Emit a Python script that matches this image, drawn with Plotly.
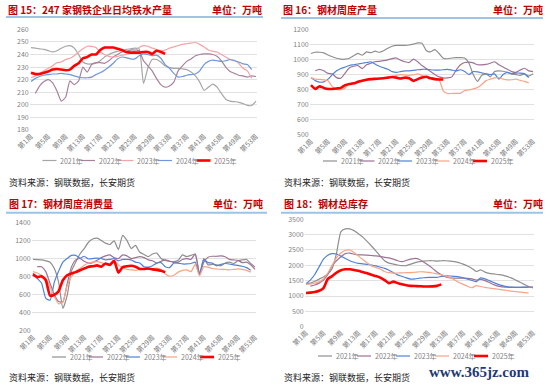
import plotly.graph_objects as go

W, H = 550, 387
FONT = "Noto Sans CJK SC"

tick_weeks = [1, 5, 9, 13, 17, 21, 25, 29, 33, 37, 41, 45, 49, 53]
tick_text = ["第%d周" % w for w in tick_weeks]
years = ["2021年", "2022年", "2023年", "2024年", "2025年"]

# 图15 247家钢铁企业日均铁水产量
p1_2021 = [245.5, 245, 244.5, 244, 243, 242, 243, 245, 246.5, 247, 245, 240, 234, 232.5, 232.5, 233, 235, 238, 240, 241.5,
           242.5, 243, 244, 244.5, 245, 244.5, 217, 229, 236, 236, 234, 231, 229.5, 229, 229, 228.5, 228, 226, 223, 218,
           211.5, 214, 216.5, 214, 209, 204.5, 203, 202.5, 202, 201, 199.5, 199.5, 203]
p1_2022 = [None, 209, 215, 218.5, 220, 217.5, 211, 203, 206, 219, 216, 219, 230, 226, 232, 233.5, 233.5, 233, 235, 238,
           240, 242, 242.5, 243.5, 243.5, 243, 235, 231, 227, 221, 216, 214, 215, 218, 227, 231, 234.5, 236.5, 239, 240,
           240.5, 240.5, 240, 238.5, 235, 230, 226.5, 225, 223.5, 223, 222, 223, 222.5]
p1_2023 = [221.5, 223, 225, 227, 229, 231, 233.5, 234, 236, 237, 239, 242, 244.5, 246.5, 246.5, 245.5, 242, 240, 238.5, 238,
           238.5, 239.5, 240, 241, 242.5, 245.5, 247, 246.5, 245, 244, 243, 243.5, 245, 246, 247, 248, 248.5, 249, 249.5, 248,
           246, 243.5, 242.5, 242, 240, 238, 236, 235.5, 233, 229, 227, 221]
p1_2024 = [218.5, 221, 222.5, 223.5, 224, 224.5, 224.5, 225, 224.5, 224, 223, 222, 221.5, 221.5, 222, 224, 225.5, 227.5, 230, 233,
           236.5, 238, 237.5, 236.5, 236.5, 239, 240.5, 240, 239, 239.5, 237, 232, 229, 225, 222, 222.5, 223.5, 224, 224.5, 227,
           232, 234.5, 235.5, 235, 234.5, 235, 236, 235, 234, 232.5, 232, 228]
p1_2025 = [225.5, 224.5, 224.5, 225.5, 226.5, 228, 228.5, 228, 227.5, 228, 231, 233, 237, 238, 240, 240, 243.5, 245.5, 245.5, 245.5,
           244.5, 243.5, 242, 241.5, 241.5, 241.5, 242, 242, 240.5, 243, 242, 240.5]

# 图16 钢材周度产量
p2_2021 = [1040, 1048, 1048, 1044, 1030, 1018, 1008, 1002, 1002, 1008, 1025, 1040, 1028, 1050, 1045, 1055, 1048, 1058, 1075, 1088,
           1094, 1094, 1094, 1096, 1102, 1110, 1108, 1060, 1050, 1065, 1040, 1008, 1005, 1010, 1012, 1012, 1010, 975, 900, 855,
           895, 905, 885, 920, 925, 922, 915, 905, 900, 895, 905, 890, 905]
p2_2022 = [None, 925, 935, 925, 908, 905, 880, 876, 910, 945, 955, 960, 940, 965, 975, 985, 988, 992, 998, 1006,
           1010, 995, 985, 980, 1003, 985, 960, 940, 920, 900, 885, 878, 878, 885, 930, 965, 980, 983, 978, 965,
           965, 968, 975, 985, 965, 950, 935, 920, 915, 930, 942, 925, 920]
p2_2023 = [880, 860, 850, 852, 870, 900, 925, 940, 950, 960, 965, 970, 975, 980, 985, 970, 955, 945, 935, 920,
           915, 920, 925, 925, 928, 932, 935, 935, 932, 930, 930, 932, 935, 930, 925, 932, 920, 900, 920, 918,
           912, 905, 900, 905, 870, 900, 915, 905, 910, 910, 905, 880]
p2_2024 = [880, 870, 868, 865, 860, 820, 802, 800, 812, 840, 845, 850, 858, 865, 868, 870, 872, 876, 880, 888,
           895, 900, 898, 895, 898, 905, 895, 885, 880, 875, 868, 790, 775, 775, 775, 776, 795, 798, 805, 815,
           835, 860, 870, 878, 880, 870, 865, 866, 870, 862, 855, 845]
p2_2025 = [830, 805, 822, 812, 805, 805, 808, 812, 830, 838, 842, 852, 860, 866, 870, 872, 874, 876, 880, 884,
           880, 874, 880, 876, 858, 870, 880, 886, 875, 870, 868, 868]

# 图17 钢材周度消费量
p3_2021 = [990, 988, 985, 975, 960, 890, 740, 450, 590, 860, 960, 1050, 1110, 1180, 1215, 1225, 1200, 1170, 1155, 1195,
           1100, 1255, 1200, 1110, 1145, 1070, 1045, 1020, 1050, 1060, 1000, 980, 970, 965, 980, 1040, 1020, 1035, 1050, 830,
           1000, 930, 935, 930, 920, 950, 960, 945, 975, 985, 990, 945, 905]
p3_2022 = [None, 910, 910, 855, 725, 600, 525, 520, 720, 905, 985, 1000, 970, 950, 955, 980, 1010, 1030, 1040, 1010,
           1000, 1040, 1030, 1000, 1010, 1020, 1010, 985, 975, 950, 970, 985, 970, 955, 960, 990, 1000, 990, 1050, 830,
           960, 1015, 1025, 1025, 1030, 1020, 990, 985, 980, 955, 960, 930, 880]
p3_2023 = [835, 780, 730, 560, 540, 740, 860, 960, 1000, 1035, 1035, 1005, 1025, 995, 1000, 1005, 1000, 985, 990, 1000,
           975, 990, 990, 985, 960, 950, 910, 905, 920, 950, 955, 910, 900, 950, 950, 940, 940, 945, 960, 815,
           990, 955, 950, 920, 935, 945, 940, 930, 925, 915, 900, 870]
p3_2024 = [855, 840, 815, 780, 690, 580, 500, 520, 700, 800, 860, 890, 925, 950, 960, 965, 955, 940, 930, 975,
           930, 900, 880, 875, 870, 880, 885, 880, 890, 895, 880, 830, 805, 815, 850, 870, 875, 855, 935, 810,
           910, 905, 890, 885, 880, 880, 875, 880, 885, 880, 870, 850]
p3_2025 = [825, 795, 805, 760, 590, 600, 640, 760, 815, 835, 850, 870, 890, 910, 915, 925, 910, 945, 930, 975,
           845, 905, 915, 920, 910, 885, 885, 890, 880, 875, 865, 850]

# 图18 钢材总库存
p4_2021 = [1390, 1420, 1480, 1550, 1620, 1720, 1900, 2400, 3100, 3190, 3190, 3130, 3030, 2920, 2780, 2630, 2470, 2300, 2150, 2070,
           2040, 2010, 1990, 1990, 2040, 2090, 2120, 2140, 2150, 2150, 2140, 2150, 2150, 2140, 2120, 2090, 2040, 1980, 1900, 1800,
           1850, 1780, 1740, 1720, 1700, 1680, 1640, 1590, 1520, 1450, 1380, 1310, 1260]
p4_2022 = [None, 1320, 1360, 1420, 1520, 1700, 2000, 2150, 2280, 2380, 2400, 2360, 2340, 2340, 2330, 2320, 2310, 2290, 2260, 2240,
           2200, 2150, 2120, 2160, 2200, 2225, 2190, 2100, 2010, 1900, 1780, 1690, 1620, 1590, 1580, 1580, 1580, 1575, 1560, 1520,
           1540, 1500, 1440, 1370, 1320, 1300, 1285, 1280, 1280, 1280, 1280, 1285, 1300]
p4_2023 = [1400, 1520, 1700, 1950, 2200, 2330, 2380, 2370, 2300, 2220, 2150, 2100, 2065, 2050, 2030, 2010, 1980, 1940, 1900, 1840,
           1760, 1690, 1640, 1590, 1550, 1560, 1580, 1595, 1605, 1610, 1610, 1640, 1655, 1652, 1640, 1625, 1590, 1550, 1510, 1470,
           1590, 1560, 1500, 1440, 1380, 1340, 1305, 1290, 1285, 1285, 1290, 1300]
p4_2024 = [1390, 1390, 1420, 1470, 1560, 1750, 2000, 2250, 2400, 2490, 2500, 2420, 2300, 2190, 2080, 1980, 1930, 1880, 1800, 1760,
           1745, 1750, 1755, 1760, 1765, 1775, 1790, 1785, 1770, 1750, 1720, 1690, 1650, 1600, 1530, 1440, 1380, 1320, 1270, 1340,
           1310, 1280, 1260, 1240, 1220, 1200, 1180, 1160, 1140, 1125, 1110, 1100]
p4_2025 = [1100, 1110, 1130, 1170, 1260, 1560, 1650, 1760, 1840, 1870, 1870, 1850, 1820, 1780, 1740, 1690, 1650, 1600, 1520, 1420,
           1470, 1420, 1380, 1350, 1330, 1325, 1320, 1310, 1310, 1315, 1330, 1380]

colors_a = ["#A6A6A6", "#A8819C", "#F4A3A8", "#6F97DE", "#FF0000"]
colors_b = ["#8F8F8F", "#9E7295", "#5282D6", "#F8A486", "#FF0000"]


def px(x):
    return x / W


def py(y):
    return 1 - y / H


panels = [
    dict(title="图 15：247 家钢铁企业日均铁水产量", tx=6, ty=9, ux=210, line_y=17, lx0=6, lx1=263,
         xd=(29.7, 257.3), yd=(29.3, 130), yr=(180, 260), dt=10,
         series=[p1_2021, p1_2022, p1_2023, p1_2024, p1_2025], colors=colors_a,
         leg_x=42.5, leg_y=160.5, leg_step=38.5, src_x=7, src_y=183),
    dict(title="图 16：钢材周度产量", tx=281, ty=9, ux=491, line_y=18, lx0=281, lx1=543,
         xd=(309.7, 534.3), yd=(29.3, 135), yr=(500, 1200), dt=100,
         series=[p2_2021, p2_2022, p2_2023, p2_2024, p2_2025], colors=colors_b,
         leg_x=323, leg_y=161, leg_step=37.5, src_x=282, src_y=183),
    dict(title="图 17：钢材周度消费量", tx=7, ty=203.5, ux=211, line_y=212.7, lx0=6, lx1=267,
         xd=(31.7, 256.3), yd=(222.3, 331), yr=(200, 1400), dt=200,
         series=[p3_2021, p3_2022, p3_2023, p3_2024, p3_2025], colors=colors_b,
         leg_x=52, leg_y=357, leg_step=37, src_x=7, src_y=377.5),
    dict(title="图 18：钢材总库存", tx=282, ty=203.5, ux=491, line_y=212.7, lx0=281, lx1=543,
         xd=(304.7, 534.3), yd=(219.3, 326.7), yr=(0, 3500), dt=500,
         series=[p4_2021, p4_2022, p4_2023, p4_2024, p4_2025], colors=colors_b,
         leg_x=318, leg_y=356, leg_step=39, src_x=282, src_y=377.5),
]

fig = go.Figure()
layout = dict(
    width=W, height=H, margin=dict(l=0, r=0, t=0, b=0, autoexpand=False),
    paper_bgcolor="white", plot_bgcolor="white", showlegend=False,
    font=dict(family=FONT, color="#595959"),
)
shapes = []
annotations = []

for i, p in enumerate(panels):
    n = i + 1
    xa = "x" if n == 1 else "x%d" % n
    ya = "y" if n == 1 else "y%d" % n
    for k, vals in enumerate(p["series"]):
        is_cur = (k == 4)
        fig.add_trace(go.Scatter(
            x=list(range(1, len(vals) + 1)), y=vals, mode="lines", name=years[k],
            line=dict(color=p["colors"][k], width=2.6 if is_cur else 1.2, shape="spline", smoothing=0.5),
            connectgaps=False, xaxis=xa, yaxis=ya, hoverinfo="skip",
        ))
    xkey = "xaxis" if n == 1 else "xaxis%d" % n
    ykey = "yaxis" if n == 1 else "yaxis%d" % n
    layout[xkey] = dict(
        domain=[px(p["xd"][0]), px(p["xd"][1])], anchor=ya, range=[0.7, 53.3], automargin=False,
        tickmode="array", tickvals=tick_weeks, ticktext=tick_text, tickangle=-45,
        tickfont=dict(size=7, color="#7F7F7F", family=FONT), showgrid=False, zeroline=False,
        showline=False, ticks="", fixedrange=True,
    )
    layout[ykey] = dict(
        domain=[py(p["yd"][1]), py(p["yd"][0])], anchor=xa, range=[p["yr"][0], p["yr"][1]], automargin=False,
        dtick=p["dt"], tick0=p["yr"][0], showgrid=True, gridcolor="#D9D9D9", gridwidth=0.8,
        zeroline=False, showline=False, ticks="", tickfont=dict(size=7, color="#7F7F7F", family=FONT),
        fixedrange=True,
    )
    # title row
    annotations.append(dict(x=px(p["tx"]), y=py(p["ty"]), xref="paper", yref="paper", xanchor="left", yanchor="middle",
                            text="<b>%s</b>" % p["title"], showarrow=False,
                            font=dict(size=10, color="#C00000", family=FONT)))
    annotations.append(dict(x=px(p["ux"]), y=py(p["ty"]), xref="paper", yref="paper", xanchor="left", yanchor="middle",
                            text="<b>单位：万吨</b>", showarrow=False,
                            font=dict(size=10, color="#C00000", family=FONT)))
    shapes.append(dict(type="line", xref="paper", yref="paper", x0=px(p["lx0"]), x1=px(p["lx1"]),
                       y0=py(p["line_y"]), y1=py(p["line_y"]), line=dict(color="#9DC3E6", width=2)))
    # legend
    for k in range(5):
        x0 = p["leg_x"] + k * p["leg_step"]
        shapes.append(dict(type="line", xref="paper", yref="paper", x0=px(x0), x1=px(x0 + 14),
                           y0=py(p["leg_y"]), y1=py(p["leg_y"]),
                           line=dict(color=p["colors"][k], width=2.6 if k == 4 else 1.2)))
        annotations.append(dict(x=px(x0 + 15.5), y=py(p["leg_y"]), xref="paper", yref="paper",
                                xanchor="left", yanchor="middle", text=years[k], showarrow=False,
                                font=dict(size=7, color="#7F7F7F", family=FONT)))
    # source
    annotations.append(dict(x=px(p["src_x"]), y=py(p["src_y"]), xref="paper", yref="paper", xanchor="left",
                            yanchor="middle", text="资料来源：钢联数据，长安期货", showarrow=False,
                            font=dict(size=9, color="#262626", family=FONT)))

annotations.append(dict(x=px(427), y=py(372), xref="paper", yref="paper", xanchor="left", yanchor="middle",
                        text="<b>www.365jz.com</b>", showarrow=False,
                        font=dict(size=15, color="#1F3B73", family="Liberation Serif")))

layout["shapes"] = shapes
layout["annotations"] = annotations
fig.update_layout(**layout)
fig.write_html(
    "out.html",
    config={"displayModeBar": False, "staticPlot": True},
    post_script="document.body.style.margin='0px';document.body.style.padding='0px';document.body.style.overflow='hidden';",
)
